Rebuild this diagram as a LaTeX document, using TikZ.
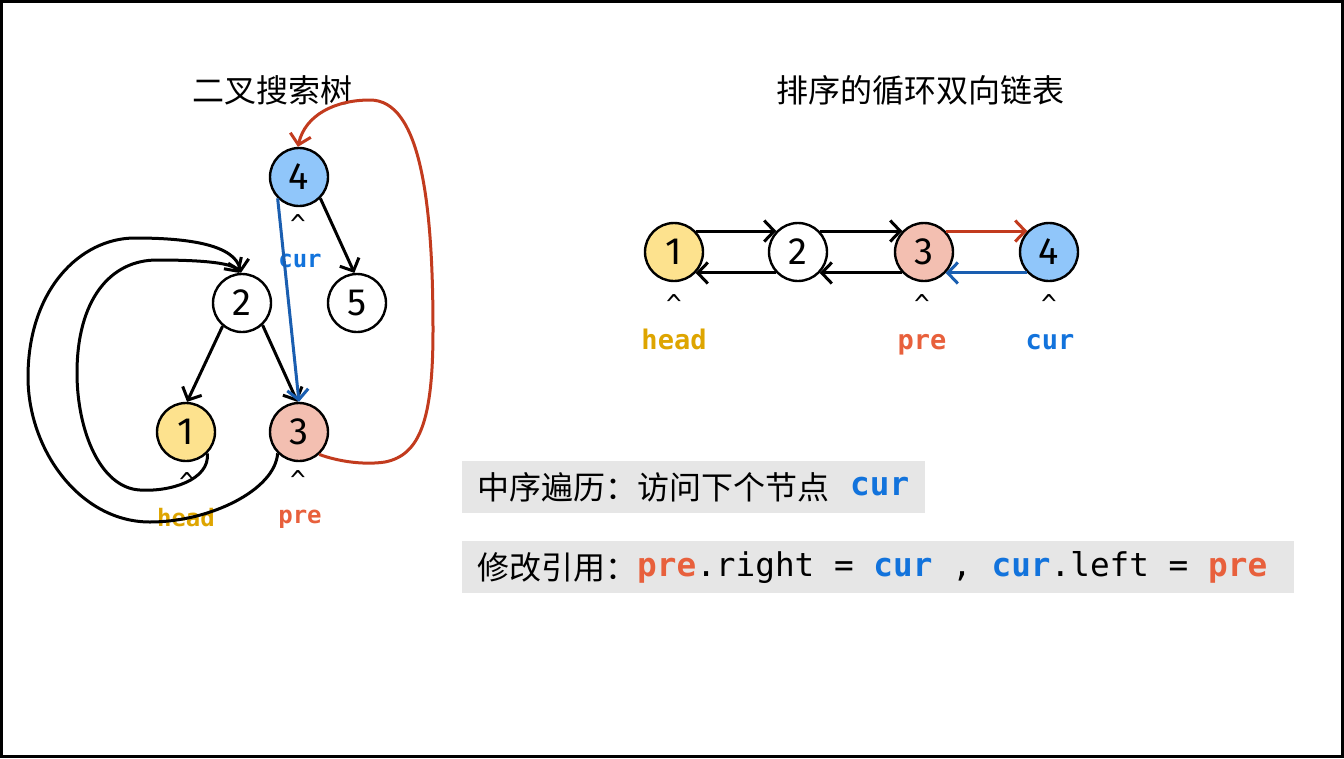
\documentclass[tikz,border=0pt]{standalone}
\usepackage{fontspec}
\setmainfont{Fira Sans}
\newfontfamily\cjk{Noto Sans CJK SC}
\newfontfamily\mono{DejaVu Sans Mono}
\usetikzlibrary{arrows.meta}
\definecolor{nblue}{HTML}{90C6FA}
\definecolor{nyellow}{HTML}{FDE28E}
\definecolor{npink}{HTML}{F3BFB1}
\definecolor{lred}{HTML}{C23B1E}
\definecolor{lblue}{HTML}{1A5EB0}
\definecolor{thead}{HTML}{DEA500}
\definecolor{tpre}{HTML}{E8603C}
\definecolor{tcur}{HTML}{1273DC}
\definecolor{boxgray}{HTML}{E6E6E6}
\begin{document}
\begin{tikzpicture}[x=1pt,y=-1pt,
  circ/.style={circle, draw, line width=2.4pt, minimum size=58pt, inner sep=0pt,
    font=\fontsize{38pt}{40pt}\selectfont},
  arr/.style={line width=3pt, -{Straight Barb[length=10pt,width=21pt]}},
  title/.style={font=\cjk\fontsize{32pt}{34pt}\selectfont},
  caret/.style={font=\mono\fontsize{26pt}{28pt}\selectfont, inner sep=0pt},
  lbls/.style={font=\mono\bfseries\fontsize{24pt}{26pt}\selectfont, inner sep=0pt, anchor=base},
  lbll/.style={font=\mono\bfseries\fontsize{27pt}{29pt}\selectfont, inner sep=0pt, anchor=base},
  cjktxt/.style={font=\cjk\fontsize{32pt}{34pt}\selectfont, inner sep=0pt, anchor=west},
  monotxt/.style={font=\mono\fontsize{32.7pt}{34pt}\selectfont, inner sep=0pt, anchor=west},
]
\useasboundingbox (0,0) rectangle (1344,758);
\draw[line width=3pt] (1.5,1.5) rectangle (1342.5,756.5);

% titles
\node[title] (title1) at (272,90) {二叉搜索树};
\node[title] (title2) at (920,90) {排序的循环双向链表};

% tree nodes
\node[circ, fill=nblue]   (t4) at (299,177) {4};
\node[circ, fill=white]   (t2) at (242,303) {2};
\node[circ, fill=white]   (t5) at (357,303) {5};
\node[circ, fill=nyellow] (t1) at (186,432) {1};
\node[circ, fill=npink]   (t3) at (299,432) {3};

% tree labels
\node[caret] (c4) at (298,224) {\textasciicircum};
\node[lbls, text=tcur] (cur1) at (300,267) {cur};
\node[caret] (c1) at (187,482) {\textasciicircum};
\node[lbls, text=thead] (head1) at (186,526) {head};
\node[caret] (c3) at (298,480) {\textasciicircum};
\node[lbls, text=tpre] (pre1) at (300,523) {pre};

% tree edges
\draw[arr] (t4.-45) -- (t5.95);
\draw[arr] (t2.-130) -- (t1.88);
\draw[arr] (t2.-47) -- (t3.93);
\draw[arr, lblue] (t4.-135) -- (t3.90);

% black loops
\draw[arr] (t1.-45) .. controls (210,480) and (170,492) .. (140,490)
  .. controls (100,488) and (77,430) .. (77,373)
  .. controls (77,300) and (110,260) .. (157,260)
  .. controls (195,260) and (232,262) .. (t2.95);
\draw[arr] (t3.-135) .. controls (275,490) and (210,522) .. (150,522)
  .. controls (80,522) and (28,450) .. (28,377)
  .. controls (28,290) and (80,238) .. (135,238)
  .. controls (190,238) and (235,245) .. (t2.92);

% red loop
\draw[arr, lred] (t3.-48) .. controls (340,462) and (365,465) .. (385,462)
  .. controls (420,455) and (433,420) .. (433,330)
  .. controls (433,200) and (420,100) .. (370,100)
  .. controls (335,100) and (305,115) .. (t4.92);

% list nodes
\node[circ, fill=nyellow] (l1) at (674,252) {1};
\node[circ, fill=white]   (l2) at (798,252) {2};
\node[circ, fill=npink]   (l3) at (924,252) {3};
\node[circ, fill=nblue]   (l4) at (1049,252) {4};

\draw[arr] (l1.44) -- (l2.136);
\draw[arr] (l2.44) -- (l3.136);
\draw[arr, lred] (l3.44) -- (l4.136);
\draw[arr] (l2.-136) -- (l1.-44);
\draw[arr] (l3.-136) -- (l2.-44);
\draw[arr, lblue] (l4.-136) -- (l3.-44);

\node[caret] (lc1) at (674,304) {\textasciicircum};
\node[caret] (lc3) at (922,304) {\textasciicircum};
\node[caret] (lc4) at (1049,304) {\textasciicircum};
\node[lbll, text=thead] (head2) at (674,349) {head};
\node[lbll, text=tpre] (pre2) at (922,349) {pre};
\node[lbll, text=tcur] (cur2) at (1050,349) {cur};

% boxes
\fill[boxgray] (462,461) rectangle (925,513);
\fill[boxgray] (462,541) rectangle (1294,593);
\node[cjktxt] (s1) at (477,487) {中序遍历：访问下个节点};
\node[monotxt, text=tcur] (s1b) at (850,487) {\bfseries cur};
\node[cjktxt] (s2) at (477,567) {修改引用：};
\node[monotxt] (s2b) at (637,567) {\textcolor{tpre}{\bfseries pre}.right = \textcolor{tcur}{\bfseries cur} , \textcolor{tcur}{\bfseries cur}.left = \textcolor{tpre}{\bfseries pre}};
\end{tikzpicture}
\end{document}
